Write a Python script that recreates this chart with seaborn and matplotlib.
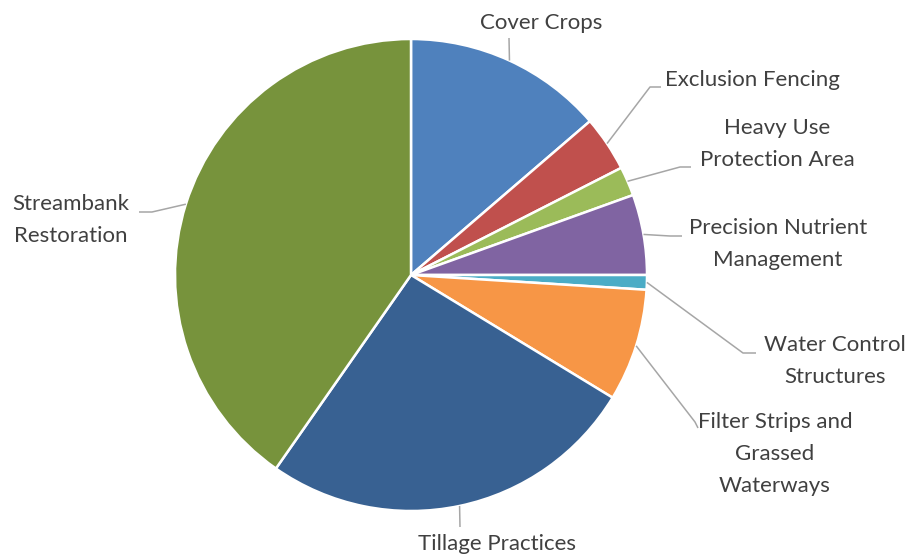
import numpy as np
import matplotlib.pyplot as plt
import seaborn as sns

labels = ['Cover Crops', 'Exclusion Fencing', 'Heavy Use\nProtection Area',
          'Precision Nutrient\nManagement', 'Water Control\nStructures',
          'Filter Strips and\nGrassed\nWaterways', 'Tillage Practices',
          'Streambank\nRestoration']
shares = [13.7, 3.8, 2.0, 5.5, 1.0, 7.7, 26.0, 40.3]
colors = ['#4F81BD', '#C0504D', '#9BBB59', '#8064A2', '#4BACC6',
          '#F79646', '#386192', '#77933C']

sns.set_theme(style='white')
plt.rcParams['font.family'] = ['Lato', 'DejaVu Sans']

W, H = 910, 557
fig = plt.figure(figsize=(9.1, 5.57), dpi=100)
ax = fig.add_axes([0, 0, 1, 1])

cx, cy, r = 411, H - 275, 236
wedges, _ = ax.pie(shares, colors=colors, startangle=90, counterclock=False,
                   center=(cx, cy), radius=r,
                   wedgeprops=dict(edgecolor='white', linewidth=1.8))
ax.set_xlim(0, W)
ax.set_ylim(0, H)
ax.set_aspect('equal')
ax.axis('off')

# label text position (pixel, y down), elbow and end of leader (pixel)
layout = [
    ((541, 23), 'center', None, (509, 38)),
    ((665, 80), 'left', (650, 87), (661, 87)),
    ((777, 144), 'center', (680, 167), (691, 167)),
    ((778, 244), 'center', (670, 236), (682, 236)),
    ((835, 361), 'center', (743, 353), (756, 353)),
    ((775, 454), 'center', (695, 422), (698, 428)),
    ((497, 544), 'center', None, (460, 527)),
    ((71, 220), 'center', (152, 212), (139, 212)),
]

line_col = '#A6A6A6'
for w, lab, (tpos, ha, elbow, end) in zip(wedges, labels, layout):
    mid = np.deg2rad((w.theta1 + w.theta2) / 2)
    ax_pt = (cx + r * np.cos(mid), cy + r * np.sin(mid))
    pts = [ax_pt]
    if elbow is not None:
        pts.append((elbow[0], H - elbow[1]))
    pts.append((end[0], H - end[1]))
    xs, ys = zip(*pts)
    ax.plot(xs, ys, color=line_col, lw=1.1, solid_capstyle='butt')
    ax.text(tpos[0], H - tpos[1], lab, ha=ha, va='center', fontsize=16,
            color='#404040', linespacing=1.75, multialignment='center')

fig.savefig('out.png', dpi=100)
